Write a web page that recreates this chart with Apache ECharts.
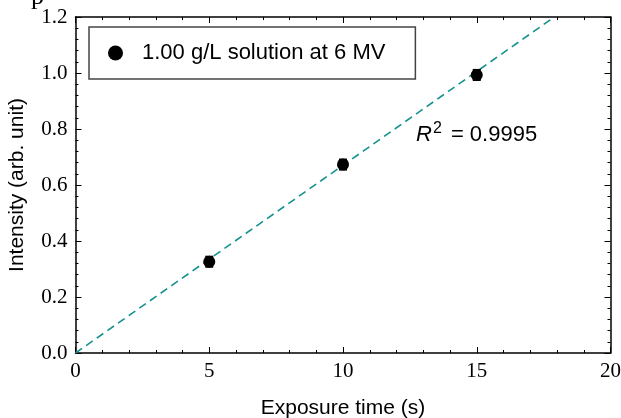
<!DOCTYPE html>
<html>
<head>
<meta charset="utf-8">
<script src="https://cdn.jsdelivr.net/npm/echarts@6/dist/echarts.min.js"></script>
<style>
  html, body { margin: 0; padding: 0; background: #fff; }
  #chart { width: 621px; height: 418px; }
</style>
</head>
<body>
<div id="chart"></div>
<script>
// measured points
var exposureTime = [5, 10, 15];
var intensity = [0.326, 0.673, 0.993];
var intensityErr = [0.018, 0.018, 0.018];
// fitted line (through origin), end points
var fitX = [0, 17.9];
var fitY = [0, 1.2];
var seriesName = "1.00 g/L solution at 6 MV";
var r2Text = "0.9995";

var chart = echarts.init(document.getElementById("chart"));

var tickFont = "Liberation Serif";
var titleFont = "Liberation Sans";

function axisBase(show, digits) {
  return {
    axisLine: { show: true, onZero: false, lineStyle: { color: "#000", width: 1.5 } },
    axisTick: { show: true, inside: true, length: 6, lineStyle: { color: "#000", width: 1 } },
    minorTick: { show: true, splitNumber: 5, length: 3, lineStyle: { color: "#000", width: 1 } },
    splitLine: { show: false },
    axisLabel: {
      show: show,
      color: "#000",
      fontFamily: tickFont,
      fontSize: 21,
      formatter: function (v) { return v.toFixed(digits); }
    }
  };
}

var pts = exposureTime.map(function (x, i) { return [x, intensity[i]]; });
var errData = exposureTime.map(function (x, i) {
  return [x, intensity[i] - intensityErr[i], intensity[i] + intensityErr[i]];
});

var option = {
  animation: false,
  grid: { left: 75.5, right: 10.5, top: 17, bottom: 65, containLabel: false, outerBoundsMode: "none" },
  xAxis: [
    Object.assign(axisBase(true, 0), {
      type: "value", min: 0, max: 20, interval: 5, position: "bottom",
      name: "Exposure time (s)",
      nameLocation: "middle",
      nameGap: 45,
      nameTextStyle: { fontFamily: titleFont, fontSize: 21, color: "#000" }
    }),
    Object.assign(axisBase(false, 0), {
      type: "value", min: 0, max: 20, interval: 5, position: "top"
    })
  ],
  yAxis: [
    Object.assign(axisBase(true, 1), {
      type: "value", min: 0, max: 1.2, interval: 0.2, position: "left",
      name: "Intensity (arb. unit)",
      nameLocation: "middle",
      nameGap: 48,
      nameTextStyle: { fontFamily: titleFont, fontSize: 21, color: "#000" }
    }),
    Object.assign(axisBase(false, 1), {
      type: "value", min: 0, max: 1.2, interval: 0.2, position: "right"
    })
  ],
  legend: {
    left: 89,
    top: 27,
    orient: "vertical",
    borderColor: "#444",
    borderWidth: 1.5,
    padding: [15, 30, 15, 19],
    itemWidth: 15,
    itemHeight: 15,
    icon: "circle",
    itemStyle: { opacity: 1 },
    textStyle: { fontFamily: titleFont, fontSize: 22, color: "#000", padding: [0, 0, 0, 14] },
    data: [seriesName]
  },
  graphic: [
    {
      type: "text", left: 31, top: -16,
      style: { text: "p", fontFamily: tickFont, fontSize: 26, fill: "#000" }
    },
    {
      type: "text", left: 416, top: 121,
      style: {
        text: "{i|R}{s|2} = " + r2Text,
        rich: {
          i: { fontFamily: titleFont, fontStyle: "italic", fontSize: 22, fill: "#000" },
          s: { fontFamily: titleFont, fontSize: 16, fill: "#000", verticalAlign: "top", padding: [0, 3, 12, 1] }
        },
        fontFamily: titleFont, fontSize: 22, fill: "#000"
      }
    }
  ],
  series: [
    {
      name: "fit",
      type: "line",
      data: fitX.map(function (x, i) { return [x, fitY[i]]; }),
      showSymbol: false,
      lineStyle: { color: "#13918f", width: 1.6, type: [8, 5] },
      z: 1
    },
    {
      name: "err",
      type: "custom",
      data: errData,
      renderItem: function (params, api) {
        var lo = api.coord([api.value(0), api.value(1)]);
        var hi = api.coord([api.value(0), api.value(2)]);
        var w = 4;
        return {
          type: "group",
          children: [
            { type: "line", shape: { x1: lo[0], y1: lo[1], x2: hi[0], y2: hi[1] }, style: { stroke: "#000", lineWidth: 1.5 } },
            { type: "line", shape: { x1: lo[0] - w, y1: lo[1], x2: lo[0] + w, y2: lo[1] }, style: { stroke: "#000", lineWidth: 2 } },
            { type: "line", shape: { x1: hi[0] - w, y1: hi[1], x2: hi[0] + w, y2: hi[1] }, style: { stroke: "#000", lineWidth: 2 } }
          ]
        };
      },
      z: 3
    },
    {
      name: seriesName,
      type: "scatter",
      data: pts,
      symbol: "circle",
      symbolSize: 12,
      itemStyle: { color: "#000", opacity: 1 },
      z: 4
    }
  ]
};

chart.setOption(option);
</script>
</body>
</html>
